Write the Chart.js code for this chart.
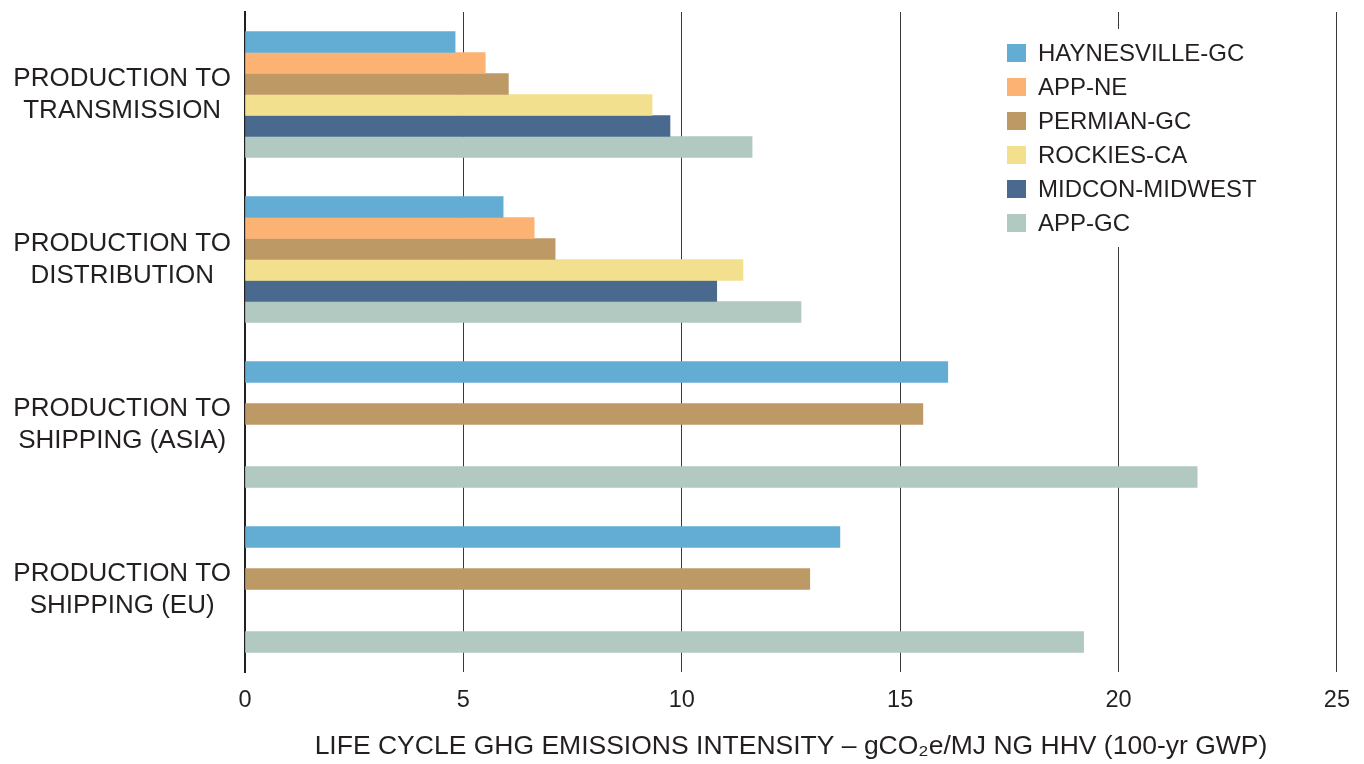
<!DOCTYPE html>
<html>
<head>
<meta charset="utf-8">
<script src="https://cdn.jsdelivr.net/npm/chart.js@4"></script>
<style>
  html, body { margin: 0; padding: 0; background: #ffffff; }
  #wrap { width: 1364px; height: 764px; position: relative; }
</style>
</head>
<body>
<div id="wrap"><canvas id="c" width="1364" height="764"></canvas></div>
<script>
// ---- Data ----
const categories = [
  ['PRODUCTION TO', 'TRANSMISSION'],
  ['PRODUCTION TO', 'DISTRIBUTION'],
  ['PRODUCTION TO', 'SHIPPING (ASIA)'],
  ['PRODUCTION TO', 'SHIPPING (EU)']
];
const seriesNames = ['HAYNESVILLE-GC', 'APP-NE', 'PERMIAN-GC', 'ROCKIES-CA', 'MIDCON-MIDWEST', 'APP-GC'];
const haynesvilleGC = [4.81, 5.91, 16.09, 13.62];
const appNE = [5.50, 6.62, null, null];
const permianGC = [6.03, 7.10, 15.52, 12.93];
const rockiesCA = [9.32, 11.40, null, null];
const midconMidwest = [9.73, 10.80, null, null];
const appGC = [11.61, 12.73, 21.80, 19.20];
const xTicks = [0, 5, 10, 15, 20, 25];
const xTitle = 'LIFE CYCLE GHG EMISSIONS INTENSITY \u2013 gCO\u2082e/MJ NG HHV (100-yr GWP)';

const seriesValues = [haynesvilleGC, appNE, permianGC, rockiesCA, midconMidwest, appGC];
const seriesColors = ['#63acd3', '#fbb272', '#bc9965', '#f3e08e', '#4a698f', '#b1c9c1'];

const textColor = '#231f20';
const FONT = "'Liberation Sans', Arial, Helvetica, sans-serif";

const insideLegend = {
  id: 'insideLegend',
  afterDatasetsDraw(chart) {
    const ctx = chart.ctx;
    ctx.save();
    ctx.fillStyle = '#ffffff';
    ctx.fillRect(996, 29, 276, 218);
    ctx.font = '24px ' + FONT;
    ctx.textBaseline = 'middle';
    ctx.textAlign = 'left';
    chart.data.datasets.forEach((ds, i) => {
      const cy = 53 + i * 34;
      ctx.fillStyle = ds.backgroundColor;
      ctx.fillRect(1007, cy - 9, 19, 18);
      ctx.fillStyle = textColor;
      ctx.fillText(ds.label, 1038, cy + 1);
    });
    ctx.restore();
  }
};

new Chart(document.getElementById('c'), {
  type: 'bar',
  data: {
    labels: categories,
    datasets: seriesNames.map((name, i) => ({
      label: name,
      data: seriesValues[i],
      backgroundColor: seriesColors[i],
      borderWidth: 0,
      barThickness: 21
    }))
  },
  options: {
    indexAxis: 'y',
    responsive: false,
    animation: false,
    layout: { padding: { left: 10, top: 12, right: 27, bottom: 1 } },
    plugins: {
      legend: { display: false },
      tooltip: { enabled: false }
    },
    scales: {
      x: {
        type: 'linear',
        min: 0,
        max: 25,
        afterBuildTicks(axis) { axis.ticks = xTicks.map(v => ({ value: v })); },
        afterFit(axis) { axis.height = 91; },
        grid: { color: '#3a3a3a', lineWidth: 1, drawTicks: false },
        border: { display: false },
        ticks: {
          color: textColor,
          font: { family: FONT, size: 23.5 },
          padding: 14,
          maxRotation: 0
        },
        title: {
          display: true,
          text: xTitle,
          color: textColor,
          font: { family: FONT, size: 26.5 },
          padding: { top: 0, bottom: 0 }
        }
      },
      y: {
        type: 'category',
        afterFit(axis) {
          axis.width = 235;
          axis.paddingTop = 0;
          axis.paddingBottom = 0;
        },
        grid: { display: false, drawTicks: false },
        border: { display: true, color: '#231f20', width: 2 },
        ticks: {
          color: textColor,
          font: { family: FONT, size: 26, lineHeight: 1.23 },
          padding: 14,
          crossAlign: 'center'
        }
      }
    }
  },
  plugins: [insideLegend]
});
</script>
</body>
</html>
